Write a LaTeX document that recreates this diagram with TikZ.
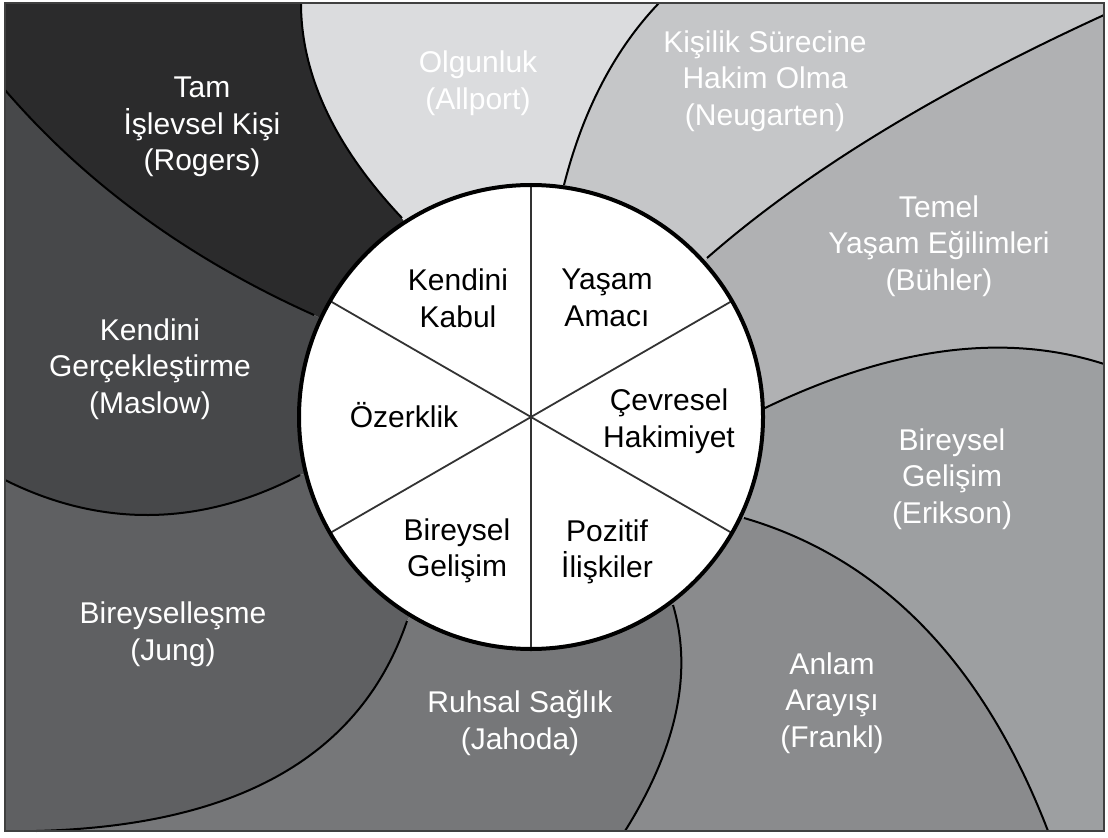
\documentclass[tikz,border=0pt]{standalone}
\usepackage{fontspec}
\setmainfont{Liberation Sans}

\definecolor{rogers}{HTML}{2B2B2C}
\definecolor{maslow}{HTML}{47484A}
\definecolor{jung}{HTML}{5F6062}
\definecolor{jahoda}{HTML}{767779}
\definecolor{frankl}{HTML}{8A8B8D}
\definecolor{erikson}{HTML}{9D9FA1}
\definecolor{buhler}{HTML}{B0B1B3}
\definecolor{neugarten}{HTML}{C5C6C8}
\definecolor{allport}{HTML}{DBDCDE}

\tikzset{
  border/.style={draw=black, line width=1pt},
  frame/.style={draw=black!75, line width=1pt},
  spoke/.style={draw=black!80, line width=0.9pt},
  rim/.style={draw=black, line width=2pt},
  label/.style={align=center, inner sep=0pt, font=\fontsize{15}{18.3}\selectfont}
}

\begin{document}
\begin{tikzpicture}[x=0.5pt,y=0.5pt]
  \useasboundingbox (0,0) rectangle (1108,837);

  % frame corners and wheel centre
  \coordinate (tl) at (5,834);
  \coordinate (tr) at (1104,834);
  \coordinate (br) at (1104,6);
  \coordinate (bl) at (5,6);
  \coordinate (o)  at (531,420);

  % boundary curves: s = on the wheel, a/b = controls, e = on the frame
  \coordinate (s1) at (402,619); \coordinate (a1) at (334,691); \coordinate (b1) at (301,763); \coordinate (e1) at (301,834);
  \coordinate (s2) at (314,522); \coordinate (a2) at (189,578); \coordinate (b2) at (86,653);  \coordinate (e2) at (5,747);
  \coordinate (s3) at (300,362); \coordinate (a3) at (197,308); \coordinate (b3) at (97,311);  \coordinate (e3) at (5,357);
  \coordinate (s4) at (407,216); \coordinate (a4) at (361,81);  \coordinate (b4) at (238,11);  \coordinate (e4) at (36,6);
  \coordinate (s5) at (673,232); \coordinate (a5) at (693,165); \coordinate (b5) at (677,89);  \coordinate (e5) at (625,6);
  \coordinate (s6) at (744,319); \coordinate (a6) at (881,279); \coordinate (b6) at (983,175); \coordinate (e6) at (1048,6);
  \coordinate (s7) at (765,429); \coordinate (a7) at (892,490); \coordinate (b7) at (1005,505); \coordinate (e7) at (1104,473);
  \coordinate (s8) at (707,579); \coordinate (a8) at (805,665); \coordinate (b8) at (938,746); \coordinate (e8) at (1104,822);
  \coordinate (s9) at (564,652); \coordinate (a9) at (583,727); \coordinate (b9) at (615,788); \coordinate (e9) at (659,834);

  % regions
  \fill[rogers]    (o) -- (s1) .. controls (a1) and (b1) .. (e1) -- (tl) -- (e2) .. controls (b2) and (a2) .. (s2) -- cycle;
  \fill[maslow]    (o) -- (s2) .. controls (a2) and (b2) .. (e2) -- (e3) .. controls (b3) and (a3) .. (s3) -- cycle;
  \fill[jung]      (o) -- (s3) .. controls (a3) and (b3) .. (e3) -- (bl) -- (e4) .. controls (b4) and (a4) .. (s4) -- cycle;
  \fill[jahoda]    (o) -- (s4) .. controls (a4) and (b4) .. (e4) -- (e5) .. controls (b5) and (a5) .. (s5) -- cycle;
  \fill[frankl]    (o) -- (s5) .. controls (a5) and (b5) .. (e5) -- (e6) .. controls (b6) and (a6) .. (s6) -- cycle;
  \fill[erikson]   (o) -- (s6) .. controls (a6) and (b6) .. (e6) -- (br) -- (e7) .. controls (b7) and (a7) .. (s7) -- cycle;
  \fill[buhler]    (o) -- (s7) .. controls (a7) and (b7) .. (e7) -- (e8) .. controls (b8) and (a8) .. (s8) -- cycle;
  \fill[neugarten] (o) -- (s8) .. controls (a8) and (b8) .. (e8) -- (tr) -- (e9) .. controls (b9) and (a9) .. (s9) -- cycle;
  \fill[allport]   (o) -- (s9) .. controls (a9) and (b9) .. (e9) -- (e1) .. controls (b1) and (a1) .. (s1) -- cycle;

  \foreach \i in {1,...,9}
    \draw[border] (s\i) .. controls (a\i) and (b\i) .. (e\i);

  \draw[frame] (bl) rectangle (tr);

  % wheel
  \fill[white] (o) circle[radius=232];
  \foreach \a in {30,90,150}
    \draw[spoke] (o) ++(\a:232) -- ++(\a+180:464);
  \draw[rim] (o) circle[radius=232];

  \begin{scope}[every node/.style={label}]
    \node (kabul)   at (458,539) {Kendini\\Kabul};
    \node (amac)    at (607,539) {Yaşam\\Amacı};
    \node (cevre)   at (669,416) {Çevresel\\Hakimiyet};
    \node (pozitif) at (607,285) {Pozitif\\İlişkiler};
    \node (gelisim) at (457,286) {Bireysel\\Gelişim};
    \node (ozerk)   at (404,422) {Özerklik};
  \end{scope}

  \begin{scope}[every node/.style={label,text=white}]
    \node (rogersl)    at (202,710) {Tam\\İşlevsel Kişi\\(Rogers)};
    \node (allportl)   at (478,754) {Olgunluk\\(Allport)};
    \node (neugartenl) at (765,756) {Kişilik Sürecine\\Hakim Olma\\(Neugarten)};
    \node (buhlerl)    at (939,591) {Temel\\Yaşam Eğilimleri\\(Bühler)};
    \node (eriksonl)   at (952,358) {Bireysel\\Gelişim\\(Erikson)};
    \node (frankll)    at (832,134) {Anlam\\Arayışı\\(Frankl)};
    \node (jahodal)    at (520,114) {Ruhsal Sağlık\\(Jahoda)};
    \node (jungl)      at (173,203) {Bireyselleşme\\(Jung)};
    \node (maslowl)    at (150,468) {Kendini\\Gerçekleştirme\\(Maslow)};
  \end{scope}

\end{tikzpicture}
\end{document}
